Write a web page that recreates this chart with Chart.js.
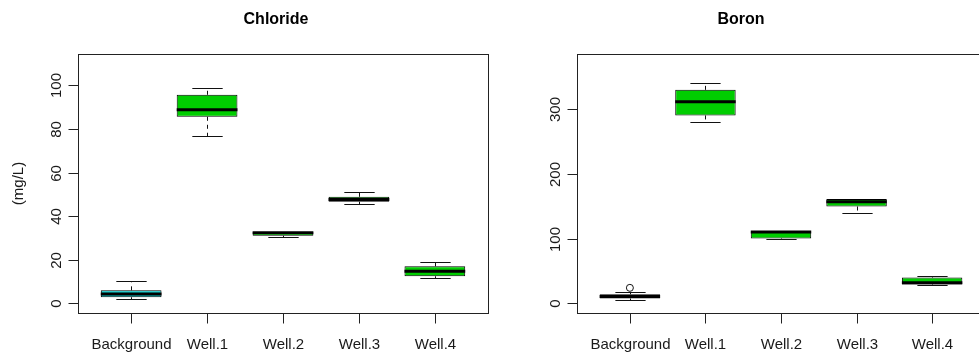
<!DOCTYPE html>
<html>
<head>
<meta charset="utf-8">
<script src="https://cdn.jsdelivr.net/npm/chart.js@4.4.1/dist/chart.umd.min.js"></script>
<style>
  html, body { margin: 0; padding: 0; background: #fff; overflow: hidden; width: 979px; height: 354px; }
  .panel { position: absolute; top: 0; height: 354px; }
  #chloridePanel { left: 0; width: 490px; }
  #boronPanel { left: 490px; width: 500px; }
</style>
</head>
<body>
<div class="panel" id="chloridePanel"><canvas id="chlorideChart" width="490" height="354"></canvas></div>
<div class="panel" id="boronPanel"><canvas id="boronChart" width="500" height="354"></canvas></div>
<script>
const categories = ['Background', 'Well.1', 'Well.2', 'Well.3', 'Well.4'];

// Chloride (mg/L): whisker ends, hinges and medians per site
const chlorideMin = [1.8, 76.9, 30.4, 45.7, 11.7];
const chlorideQ1 = [2.8, 85.6, 31.0, 46.6, 12.5];
const chlorideMedian = [4.3, 88.8, 32.4, 47.7, 14.7];
const chlorideQ3 = [6.0, 95.7, 32.8, 48.9, 17.0];
const chlorideMax = [10.2, 98.6, 32.8, 50.9, 18.8];
const chlorideTicks = [0, 20, 40, 60, 80, 100];

// Boron
const boronMin = [6, 280, 100, 139, 29];
const boronQ1 = [7.5, 290, 100, 149.5, 29];
const boronMedian = [10.5, 311, 110, 157, 32];
const boronQ3 = [14, 329.5, 111.5, 161, 40];
const boronMax = [17.5, 340, 111.5, 161, 42];
const boronOutlierSite = [1];
const boronOutlierValue = [24];
const boronTicks = [0, 100, 200, 300];

const boxColors = ['#00CDCD', '#00CD00', '#00CD00', '#00CD00', '#00CD00'];
const FONT = '"Liberation Sans", Arial, sans-serif';

// whiskers, medians, frame and axes drawn the way R's boxplot() does
const rBoxPlot = {
  id: 'rBoxPlot',
  beforeDatasetsDraw(chart, args, o) {
    const { ctx, scales: { x, y } } = chart;
    const bars = chart.getDatasetMeta(0).data;
    ctx.save();
    ctx.strokeStyle = '#111';
    ctx.lineWidth = 1;
    o.min.forEach((lo, i) => {
      const px = Math.round(x.getPixelForValue(i + 1)) + 0.5;
      const half = bars[i].width / 4;
      [[lo, o.q1[i]], [o.max[i], o.q3[i]]].forEach(([end, hinge]) => {
        const pe = Math.round(y.getPixelForValue(end)) + 0.5;
        const ph = y.getPixelForValue(hinge);
        ctx.setLineDash([4, 4]);
        ctx.beginPath(); ctx.moveTo(px, ph); ctx.lineTo(px, pe); ctx.stroke();
        ctx.setLineDash([]);
        ctx.beginPath(); ctx.moveTo(px - half, pe); ctx.lineTo(px + half, pe); ctx.stroke();
      });
    });
    ctx.restore();
  },
  afterDatasetsDraw(chart, args, o) {
    const { ctx, scales: { y } } = chart;
    const bars = chart.getDatasetMeta(0).data;
    ctx.save();
    ctx.strokeStyle = '#000';
    ctx.lineWidth = 3;
    o.median.forEach((m, i) => {
      const py = y.getPixelForValue(m);
      ctx.beginPath();
      ctx.moveTo(bars[i].x - bars[i].width / 2, py);
      ctx.lineTo(bars[i].x + bars[i].width / 2, py);
      ctx.stroke();
    });
    ctx.restore();
  },
  afterDraw(chart, args, o) {
    const { ctx, chartArea: a, scales: { x, y } } = chart;
    ctx.save();
    ctx.strokeStyle = '#222';
    ctx.lineWidth = 1;
    const l = Math.round(a.left) + 0.5, b = Math.round(a.bottom) + 0.5;
    ctx.strokeRect(l, Math.round(a.top) + 0.5, Math.round(a.right - a.left), Math.round(a.bottom - a.top));

    ctx.fillStyle = '#1a1a1a';
    ctx.font = '15px ' + FONT;
    // y axis: ticks and vertical labels
    o.ticks.forEach(t => {
      const py = Math.round(y.getPixelForValue(t)) + 0.5;
      ctx.beginPath(); ctx.moveTo(l - 10, py); ctx.lineTo(l, py); ctx.stroke();
      ctx.save();
      ctx.translate(l - 18, py);
      ctx.rotate(-Math.PI / 2);
      ctx.textAlign = 'center';
      ctx.textBaseline = 'alphabetic';
      ctx.fillText(String(t), 0, 0);
      ctx.restore();
    });
    // x axis: ticks and category names
    categories.forEach((c, i) => {
      const px = Math.round(x.getPixelForValue(i + 1)) + 0.5;
      ctx.beginPath(); ctx.moveTo(px, b); ctx.lineTo(px, b + 10); ctx.stroke();
      ctx.textAlign = 'center';
      ctx.textBaseline = 'alphabetic';
      ctx.fillText(c, px, b + 35);
    });
    if (o.yTitle) {
      ctx.save();
      ctx.translate(23, (a.top + a.bottom) / 2);
      ctx.rotate(-Math.PI / 2);
      ctx.textAlign = 'center';
      ctx.fillText(o.yTitle, 0, 0);
      ctx.restore();
    }
    ctx.fillStyle = '#000';
    ctx.font = 'bold 16px ' + FONT;
    ctx.textAlign = 'center';
    ctx.fillText(o.title, o.titleX, 24);
    ctx.restore();
  }
};

function makeBoxChart(id, s) {
  const datasets = [{
    type: 'bar',
    data: categories.map((c, i) => ({ x: i + 1, y: [s.q1[i], s.q3[i]] })),
    backgroundColor: boxColors,
    borderColor: '#000',
    borderWidth: 1,
    borderSkipped: false,
    barPercentage: 1,
    categoryPercentage: 0.8
  }];
  if (s.outX) {
    datasets.push({
      type: 'scatter',
      data: s.outX.map((v, i) => ({ x: v, y: s.outY[i] })),
      pointStyle: 'circle',
      pointRadius: 3.5,
      borderColor: '#111',
      borderWidth: 1,
      backgroundColor: 'rgba(0,0,0,0)'
    });
  }
  return new Chart(document.getElementById(id), {
    type: 'bar',
    data: { datasets },
    options: {
      responsive: false,
      animation: false,
      events: [],
      layout: { padding: s.padding },
      scales: {
        x: {
          type: 'linear', min: 0.3, max: 5.7, offset: false, display: false,
          // one tick per site so the bar width follows the site spacing
          afterBuildTicks: sc => { sc.ticks = categories.map((c, i) => ({ value: i + 1 })); }
        },
        y: { type: 'linear', min: s.yMin, max: s.yMax, display: false }
      },
      plugins: {
        legend: { display: false },
        tooltip: { enabled: false },
        rBoxPlot: s
      }
    },
    plugins: [rBoxPlot]
  });
}

makeBoxChart('chlorideChart', {
  min: chlorideMin, q1: chlorideQ1, median: chlorideMedian, q3: chlorideQ3, max: chlorideMax,
  ticks: chlorideTicks, yMin: -4.4, yMax: 114.4,
  title: 'Chloride', titleX: 276, yTitle: '(mg/L)',
  padding: { left: 78, right: 2, top: 54, bottom: 41 }
});

makeBoxChart('boronChart', {
  min: boronMin, q1: boronQ1, median: boronMedian, q3: boronQ3, max: boronMax,
  outX: boronOutlierSite, outY: boronOutlierValue,
  ticks: boronTicks, yMin: -14.8, yMax: 384.8,
  title: 'Boron', titleX: 251,
  padding: { left: 87, right: 4, top: 54, bottom: 41 }
});
</script>
</body>
</html>
